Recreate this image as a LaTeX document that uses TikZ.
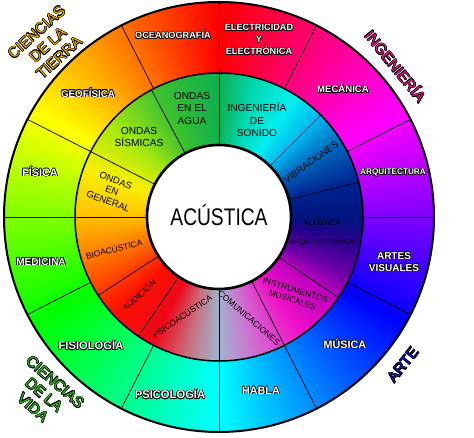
\documentclass[tikz,border=0pt]{standalone}
\usepackage{fontspec}
\setmainfont{Liberation Sans}
\usepackage{graphicx}
\usepackage{xcolor}
\usepackage{contour}
\usepackage{tikz}
\contourlength{0.5pt}
\contournumber{16}

% hue wheel stops (rgb)
\definecolor{hr}{rgb}{1,0,0}
\definecolor{hy}{rgb}{1,1,0}
\definecolor{hg}{rgb}{0,1,0}
\definecolor{hc}{rgb}{0,1,1}
\definecolor{hb}{rgb}{0,0,1}
\definecolor{hm}{rgb}{1,0,1}
% inner ring colour stops
\definecolor{s1}{HTML}{A0B4CC}
\definecolor{s2}{HTML}{D070D0}
\definecolor{s3}{HTML}{F010C8}
\definecolor{s4}{HTML}{C000C0}
\definecolor{s5}{HTML}{7000A8}
\definecolor{s6}{HTML}{300090}
\definecolor{s7}{HTML}{001480}
\definecolor{s8}{HTML}{002290}
\definecolor{s9}{HTML}{0060B8}
\definecolor{s10}{HTML}{00B8F0}
\definecolor{s11}{HTML}{00F0F0}
\definecolor{s12}{HTML}{00D8B0}
\definecolor{s13}{HTML}{10B050}
\definecolor{s14}{HTML}{38C030}
\definecolor{s15}{HTML}{A8E810}
\definecolor{s16}{HTML}{F8F000}
\definecolor{s17}{HTML}{FFC000}
\definecolor{s18}{HTML}{FF7000}
\definecolor{s19}{HTML}{FF1000}
\definecolor{s20}{HTML}{F00818}
\definecolor{s21}{HTML}{C87080}
% category colours
\definecolor{tierra}{HTML}{F0B000}
\definecolor{ingen}{HTML}{E8188A}
\definecolor{arte}{HTML}{1A1AB0}
\definecolor{vida}{HTML}{30C020}

% ring piece: r1, r2, from angle, to angle, colour1, colour2
\newcommand\ringpiece[6]{%
  \pgfmathtruncatemacro\nsteps{#4-#3}%
  \foreach \i in {1,...,\nsteps}{%
    \pgfmathsetmacro\aa{#3+\i-1}%
    \pgfmathsetmacro\bb{#3+\i+0.4}%
    \pgfmathsetmacro\pp{100*(\i-0.5)/\nsteps}%
    \fill[fill=#6!\pp!#5] (\aa:#1) arc[start angle=\aa, end angle=\bb, radius=#1]
      -- (\bb:#2) arc[start angle=\bb, end angle=\aa, radius=#2] -- cycle;
  }}
\newcommand\wlab[1]{\contour{black}{#1}}

\begin{document}
\begin{tikzpicture}[x=1pt, y=1pt,
  div/.style={line width=0.7pt},
  outlab/.style={font=\bfseries\fontsize{#1}{12}\selectfont, text=white, align=center, inner sep=0pt},
  outlab/.default=10,
  inlab/.style={font=\fontsize{#1}{12.5}\selectfont, align=center, inner sep=0pt},
  inlab/.default=10.2,
  smlab/.style={font=\fontsize{8.5}{10}\selectfont, align=center, inner sep=0pt},
  catlab/.style={font=\fontsize{15}{17}\selectfont, align=center, inner sep=0pt},
]
\useasboundingbox (-219,-221) rectangle (255,217);

% outer ring (hue wheel)
\foreach \a/\b/\ca/\cb in {-30/30/hb/hm, 30/90/hm/hr, 90/150/hr/hy,
    150/210/hy/hg, 210/270/hg/hc, 270/330/hc/hb}
  \ringpiece{144pt}{215pt}{\a}{\b}{\ca}{\cb};
% inner ring
\foreach \a/\b/\ca/\cb in {-90/-75/s1/s2, -75/-55/s2/s3, -55/-35/s3/s4, -35/-25/s4/s5,
    -25/-12/s5/s6, -12/0/s6/s7, 0/14/s7/s8, 14/30/s8/s9, 30/45/s9/s10, 45/58/s10/s11,
    58/75/s11/s12, 75/90/s12/s13, 90/115/s13/s14, 115/140/s14/s15, 140/160/s15/s16,
    160/180/s16/s17, 180/200/s17/s18, 200/222/s18/s19, 222/242/s19/s20,
    242/257/s20/s21, 257/270/s21/s1}
  \ringpiece{71pt}{144pt}{\a}{\b}{\ca}{\cb};

\foreach \t in {0,27,63,90,117,153,180,207,243,270,297,333}
  \draw[div] (\t:144pt) -- (\t:215pt);
\foreach \t in {14,45,90,118,153,180,213,236,270,297,326}
  \draw[div] (\t:72pt) -- (\t:144pt);
\draw[line width=2pt] (0,0) circle[radius=215pt];
\draw[line width=1.5pt] (0,0) circle[radius=144pt];
\draw[line width=2.6pt, fill=white] (0,0) circle[radius=72pt];

\node (acus) at (0,2) {\fontsize{24}{24}\selectfont\scalebox{0.8}[1]{ACÚSTICA}};

% outer labels
\node[outlab=9.2] (ocea) at (-46,182) {\wlab{OCEANOGRAFÍA}};
\node[outlab=9.2] (elec) at (40,177) {\wlab{ELECTRICIDAD}\\\wlab{Y}\\\wlab{ELECTRÓNICA}};
\node[outlab=9.6] (meca) at (124,128) {\wlab{MECÁNICA}};
\node[outlab=8.2] (arqui) at (174,44) {\wlab{ARQUITECTURA}};
\node[outlab] (artes) at (175,-45) {\wlab{ARTES}\\\wlab{VISUALES}};
\node[outlab=10.8] (musica) at (126,-127) {\wlab{MÚSICA}};
\node[outlab=10.8] (habla) at (42,-174) {\wlab{HABLA}};
\node[outlab=11.2] (psicol) at (-49,-177) {\wlab{PSICOLOGÍA}};
\node[outlab=11.2] (fisiol) at (-128,-128) {\wlab{FISIOLOGÍA}};
\node[outlab] (medic) at (-178,-45) {\wlab{MEDICINA}};
\node[outlab=10.8] (fisica) at (-179,45) {\wlab{FÍSICA}};
\node[outlab=9.8] (geof) at (-131,124) {\wlab{GEOFÍSICA}};

% inner labels
\node[inlab] (agua) at (-27,109) {ONDAS\\EN EL\\AGUA};
\node[inlab] (sism) at (-80,80) {ONDAS\\SÍSMICAS};
\node[inlab] (isonido) at (38,97) {INGENIERÍA\\DE\\SONIDO};
\node[inlab=9.4, rotate=36] (vibr) at (92,55) {VIBRACIONES};
\node[inlab=7.2] (aarq) at (103,-16) {ACÚSTICA\\[6.5pt]ARQUITECTÓNICA};
\node[smlab, rotate=-17] (instr) at (75,-78) {INSTRUMENTOS\\MUSICALES};
\node[smlab, rotate=-41] (comun) at (30,-101) {COMUNICACIONES};
\node[smlab, rotate=34] (psicoac) at (-37,-99) {PSICOACÚSTICA};
\node[smlab, rotate=42] (audic) at (-80,-78) {AUDICIÓN};
\node[smlab, rotate=14] (bioac) at (-105,-32) {BIOACÚSTICA};
\node[inlab, font=\fontsize{9.5}{11}\selectfont, rotate=-20] (ogen) at (-107,26) {ONDAS\\EN\\GENERAL};

% categories
\node[catlab, text=tierra, rotate=42] (ctierra) at (-171,172)
  {\contour{black}{CIENCIAS}\\\contour{black}{DE LA}\\\contour{black}{TIERRA}};
\node[catlab, text=ingen, rotate=-51] (cing) at (177,151) {\contour{black}{INGENIERÍA}};
\node[catlab, text=arte, rotate=51] (carte) at (184,-148) {\contour{black}{ARTE}};
\node[catlab, text=vida, rotate=-41] (cvida) at (-175,-178)
  {\contour{black}{CIENCIAS}\\\contour{black}{DE LA}\\\contour{black}{VIDA}};
\end{tikzpicture}
\end{document}
